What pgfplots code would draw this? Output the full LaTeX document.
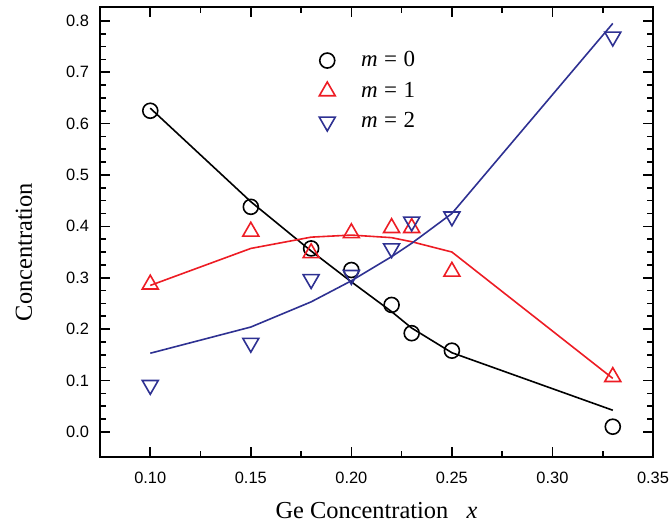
\documentclass[border=0pt]{standalone}
\usepackage{pgfplots}
\pgfplotsset{compat=1.18}
\usepackage{fontspec}
\setmainfont{Liberation Serif}
\newfontfamily\arial{Liberation Sans}
\usetikzlibrary{calc}
\definecolor{cred}{RGB}{237,28,36}
\definecolor{cblue}{RGB}{46,49,146}
\begin{document}
\begin{tikzpicture}
\begin{axis}[
  scale only axis,
  width=276.5pt, height=225pt,
  xmin=0.075, xmax=0.35, ymin=-0.049, ymax=0.827,
  xtick={0.10,0.15,0.20,0.25,0.30,0.35},
  ytick={0,0.1,0.2,0.3,0.4,0.5,0.6,0.7,0.8},
  minor x tick num=1, minor y tick num=3,
  tick align=inside,
  major tick length=5pt, minor tick length=3pt,
  axis line style={line width=1pt},
  every tick/.style={line width=0.8pt, black},
  xticklabel style={yshift=-4pt, /pgf/number format/.cd, fixed, fixed zerofill, precision=2, assume math mode=true},
  yticklabel style={xshift=-2pt, /pgf/number format/.cd, fixed, fixed zerofill, precision=1, assume math mode=true},
  tick label style={font=\arial\fontsize{8.2}{9.8}\selectfont},
  xlabel={Ge Concentration\hspace{0.75em}\textit{x}},
  ylabel={Concentration},
  label style={font=\fontsize{12.2}{14}\selectfont},
  xlabel style={at={(axis description cs:0.5,-0.1184)}, anchor=center},
  ylabel style={at={(axis description cs:-0.1374,0.4556)}, anchor=center},
  legend style={draw=none, fill=none, at={(axis description cs:0.385,0.92)}, anchor=north west,
    font=\fontsize{11.5}{13}\selectfont, row sep=2.2pt, column sep=0pt},
  legend cell align=left,
  legend style={nodes={inner xsep=0pt}},
  /tikz/every odd column/.style={column sep=13pt},
]
% legend
\addlegendimage{only marks, mark=o, mark size=3.75pt, black, thick}
\addlegendentry{\textit{m}\;=\;0}
\addlegendimage{only marks, mark=triangle, mark size=4.6pt, cred, thick}
\addlegendentry{\textit{m}\;=\;1}
\addlegendimage{only marks, mark=triangle, mark size=4.6pt, cblue, thick, mark options={rotate=180}}
\addlegendentry{\textit{m}\;=\;2}
% lines
\addplot[black, line width=0.8pt, forget plot] coordinates {
(0.10,0.630) (0.15,0.448) (0.18,0.352) (0.20,0.292) (0.22,0.234) (0.23,0.202) (0.25,0.154) (0.33,0.042)};
\addplot[cred, line width=0.8pt, forget plot] coordinates {
(0.10,0.285) (0.15,0.357) (0.18,0.379) (0.20,0.383) (0.22,0.378) (0.23,0.370) (0.25,0.350) (0.33,0.104)};
\addplot[cblue, line width=0.8pt, forget plot] coordinates {
(0.10,0.153) (0.15,0.204) (0.18,0.253) (0.20,0.294) (0.22,0.341) (0.23,0.367) (0.25,0.425) (0.33,0.795)};
% markers
\addplot[only marks, mark=o, mark size=3.75pt, black, thick, forget plot] coordinates {
(0.10,0.625) (0.15,0.438) (0.18,0.357) (0.20,0.315) (0.22,0.247) (0.23,0.192) (0.25,0.158) (0.33,0.010)};
\addplot[only marks, mark=triangle, mark size=4.6pt, cred, thick, forget plot] coordinates {
(0.10,0.287) (0.15,0.390) (0.18,0.348) (0.20,0.387) (0.22,0.397) (0.23,0.397) (0.25,0.312) (0.33,0.107)};
\addplot[only marks, mark=triangle, mark size=4.6pt, cblue, thick, mark options={rotate=180}, forget plot] coordinates {
(0.10,0.091) (0.15,0.173) (0.18,0.297) (0.20,0.305) (0.22,0.357) (0.23,0.409) (0.25,0.419) (0.33,0.769)};
\end{axis}
\pgfresetboundingbox
\path ($(current axis.south west)+(-50pt,-34pt)$) rectangle ($(current axis.north east)+(8pt,3.5pt)$);
\end{tikzpicture}
\end{document}
